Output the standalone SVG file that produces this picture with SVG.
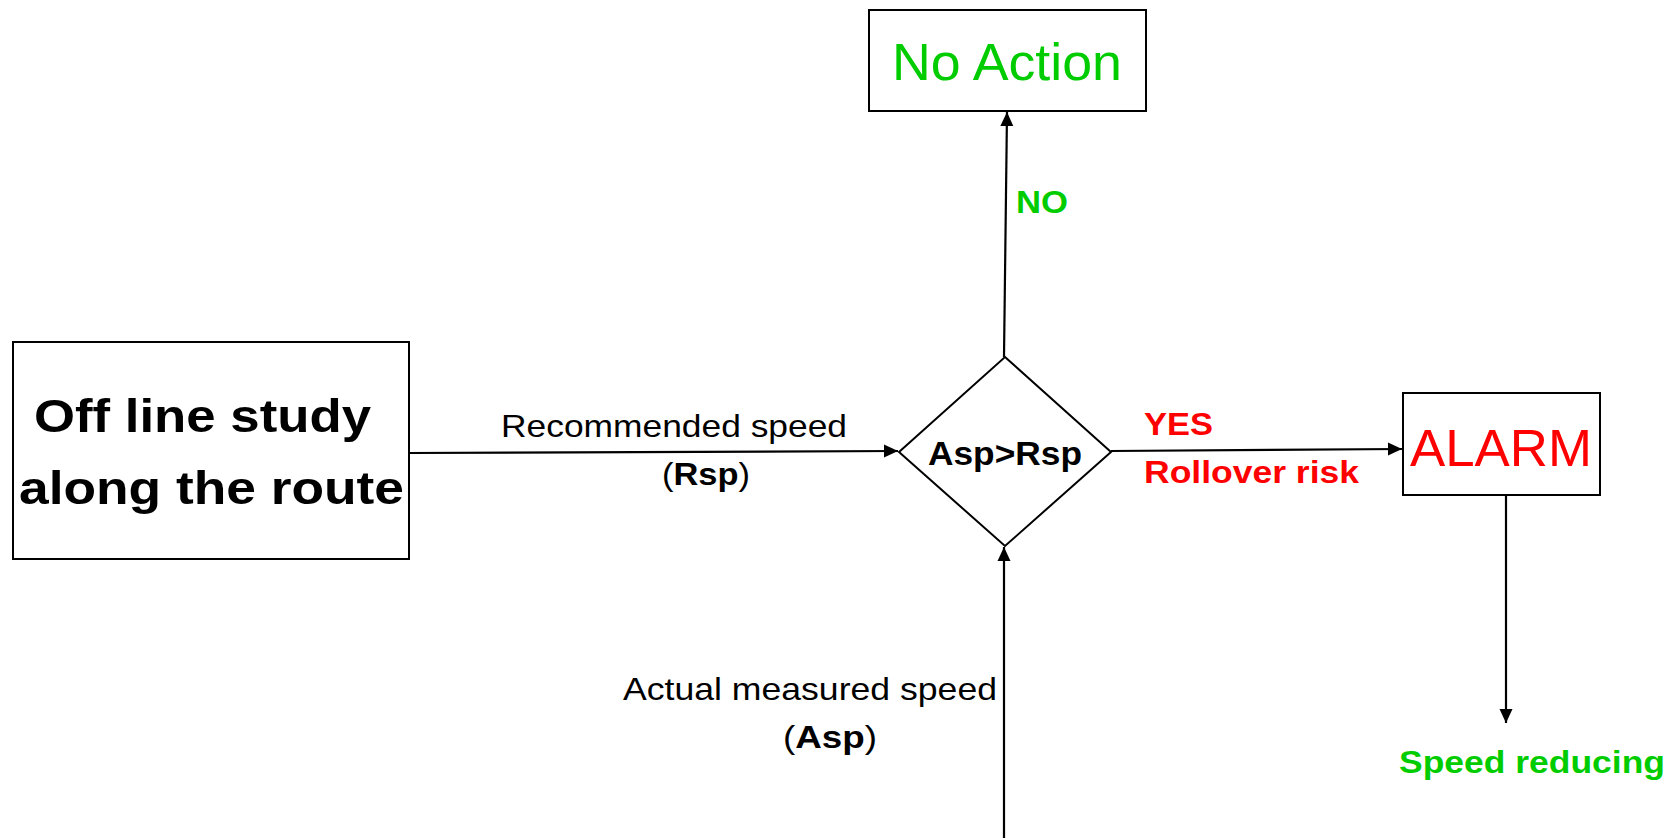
<svg xmlns="http://www.w3.org/2000/svg" width="1675" height="838" viewBox="0 0 1675 838">
<defs>
<marker id="arr" markerUnits="userSpaceOnUse" markerWidth="15" markerHeight="14" viewBox="0 0 15 14" refX="14" refY="7" orient="auto">
<path d="M0,0.5 L14,7 L0,13.5 Z" fill="#000"/>
</marker>
<style>
.box{fill:#fff;stroke:#000;stroke-width:2}
.con{fill:none;stroke:#000;stroke-width:2.2}
text{font-family:"Liberation Sans",Arial,sans-serif}
.b{font-weight:bold}
.g{fill:#00cc00}
.r{fill:#ff0000}
.k{fill:#000}
</style>
</defs>
<rect width="1675" height="838" fill="#fff"/>
<g id="connectors">
<line class="con" x1="409" y1="453" x2="898" y2="451" marker-end="url(#arr)"/>
<line class="con" x1="1004" y1="357" x2="1007" y2="112" marker-end="url(#arr)"/>
<line class="con" x1="1111" y1="451" x2="1402" y2="449" marker-end="url(#arr)"/>
<line class="con" x1="1004" y1="838" x2="1004" y2="547" marker-end="url(#arr)"/>
<line class="con" x1="1506" y1="495" x2="1506" y2="723" marker-end="url(#arr)"/>
</g>
<g id="offline">
<rect class="box" x="13" y="342" width="396" height="217"/>
<text class="b k" x="34" y="432" font-size="46" textLength="337" lengthAdjust="spacingAndGlyphs">Off line study</text>
<text class="b k" x="19" y="504" font-size="46" textLength="385" lengthAdjust="spacingAndGlyphs">along the route</text>
</g>
<g id="decision">
<polygon class="box" points="1005,357 1111,452 1005,546 899,452"/>
<text class="b k" x="928" y="465" font-size="33" textLength="154" lengthAdjust="spacingAndGlyphs">Asp&gt;Rsp</text>
</g>
<g id="noaction">
<rect class="box" x="869" y="10" width="277" height="101"/>
<text class="g" x="892" y="80" font-size="52" textLength="230" lengthAdjust="spacingAndGlyphs">No Action</text>
</g>
<g id="alarm">
<rect class="box" x="1403" y="393" width="197" height="102"/>
<text class="r" x="1410" y="466" font-size="52" textLength="182" lengthAdjust="spacingAndGlyphs">ALARM</text>
</g>
<g id="labels">
<text class="k" x="501" y="437" font-size="32" textLength="346" lengthAdjust="spacingAndGlyphs">Recommended speed</text>
<text class="k" x="662" y="485" font-size="32" textLength="88" lengthAdjust="spacingAndGlyphs">(<tspan class="b">Rsp</tspan>)</text>
<text class="b g" x="1016" y="213" font-size="32" textLength="52" lengthAdjust="spacingAndGlyphs">NO</text>
<text class="b r" x="1144" y="435" font-size="32" textLength="69" lengthAdjust="spacingAndGlyphs">YES</text>
<text class="b r" x="1144" y="483" font-size="32" textLength="215" lengthAdjust="spacingAndGlyphs">Rollover risk</text>
<text class="k" x="623" y="700" font-size="32" textLength="374" lengthAdjust="spacingAndGlyphs">Actual measured speed</text>
<text class="k" x="783" y="748" font-size="32" textLength="94" lengthAdjust="spacingAndGlyphs">(<tspan class="b">Asp</tspan>)</text>
<text class="b g" x="1399" y="773" font-size="32" textLength="266" lengthAdjust="spacingAndGlyphs">Speed reducing</text>
</g>
</svg>
